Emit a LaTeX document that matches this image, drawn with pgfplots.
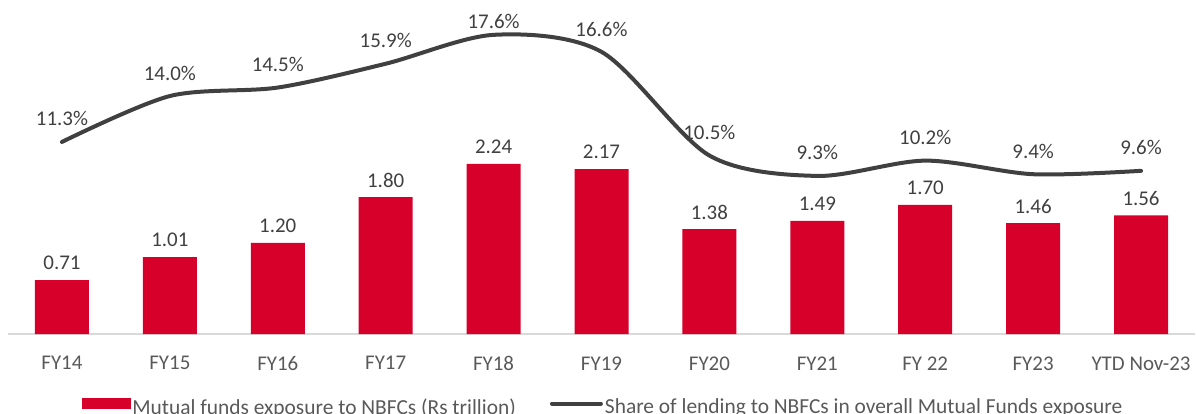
\documentclass[border=0pt]{standalone}
\usepackage{fontspec}
\setmainfont{Carlito}
\usepackage{pgfplots}
\usepackage{pgfplotstable}
\pgfplotsset{compat=1.18}
\definecolor{barred}{HTML}{D6002A}
\definecolor{linegray}{HTML}{404040}
\definecolor{txt}{HTML}{404040}
\definecolor{ticktxt}{HTML}{595959}
\definecolor{axisgray}{HTML}{D9D9D9}
\pgfplotstableread{
x y lbl shift
0 11.3 11.3 23
1 14.0 14.0 23
2 14.5 14.5 23
3 15.9 15.9 23
4 17.6 17.6 13
5 16.6 16.6 22
6 10.5 10.5 23
7 9.3 9.3 23
8 10.2 10.2 23
9 9.4 9.4 23
10 9.6 9.6 23
}\sharetable
\begin{document}
\begin{tikzpicture}
\path[use as bounding box] (0,0) rectangle (1196bp,-414bp);
\begin{axis}[
  at={(8bp,-334bp)}, anchor=south west,
  scale only axis, width=1187bp, height=334bp,
  xmin=-0.5, xmax=10.5, ymin=0, ymax=4.395,
  axis y line=none, axis x line*=bottom,
  x axis line style={draw=axisgray, line width=2bp, -},
  xtick={0,...,10},
  xticklabels={FY14,FY15,FY16,FY17,FY18,FY19,FY20,FY21,FY 22,FY23,YTD Nov-23},
  major tick length=0pt,
  xticklabel style={font=\fontsize{21}{24}\selectfont, text=ticktxt, yshift=-19bp},
  ybar, bar width=54bp,
  nodes near coords={\pgfplotspointmeta}, point meta=explicit symbolic,
  every node near coord/.append style={font=\fontsize{21}{24}\selectfont, text=txt, anchor=center, yshift=17bp},
  clip=false,
]
\addplot[fill=barred, draw=none] coordinates {
  (0,0.71) [0.71]
  (1,1.01) [1.01]
  (2,1.20) [1.20]
  (3,1.80) [1.80]
  (4,2.24) [2.24]
  (5,2.17) [2.17]
  (6,1.38) [1.38]
  (7,1.49) [1.49]
  (8,1.70) [1.70]
  (9,1.46) [1.46]
  (10,1.56) [1.56]
};
\end{axis}
\begin{axis}[
  at={(8bp,-334bp)}, anchor=south west,
  scale only axis, width=1187bp, height=334bp,
  xmin=-0.5, xmax=10.5, ymin=0, ymax=19.65,
  hide axis, clip=false,
  legend style={at={(0.0623,0)}, anchor=west, yshift=-73bp, draw=none, fill=none,
    inner sep=0pt, outer sep=0pt, legend columns=2,
    /tikz/every even column/.append style={column sep=32bp},
    font=\fontsize{21.5}{25}\selectfont, text=ticktxt, nodes={inner sep=2bp}},
  legend cell align=left,
]
\addlegendimage{legend image code/.code={\fill[barred] (0bp,-1.5bp) rectangle (48bp,8.5bp);}}
\addlegendentry{Mutual funds exposure to NBFCs (Rs trillion)}
\addplot[linegray, line width=4bp, smooth, mark=none, line cap=round,
  visualization depends on={\thisrow{shift}\as\lshift},
  nodes near coords={\pgfplotspointmeta\%}, point meta=explicit symbolic,
  every node near coord/.append style={font=\fontsize{21}{24}\selectfont, text=txt, anchor=center, yshift=\lshift bp},
  legend image code/.code={\draw[linegray,line width=4bp] (0bp,3.5bp) -- (49bp,3.5bp);}]
  table[x=x, y=y, meta=lbl] {\sharetable};
\addlegendentry{Share of lending to NBFCs in overall Mutual Funds exposure}
\end{axis}
\end{tikzpicture}
\end{document}
